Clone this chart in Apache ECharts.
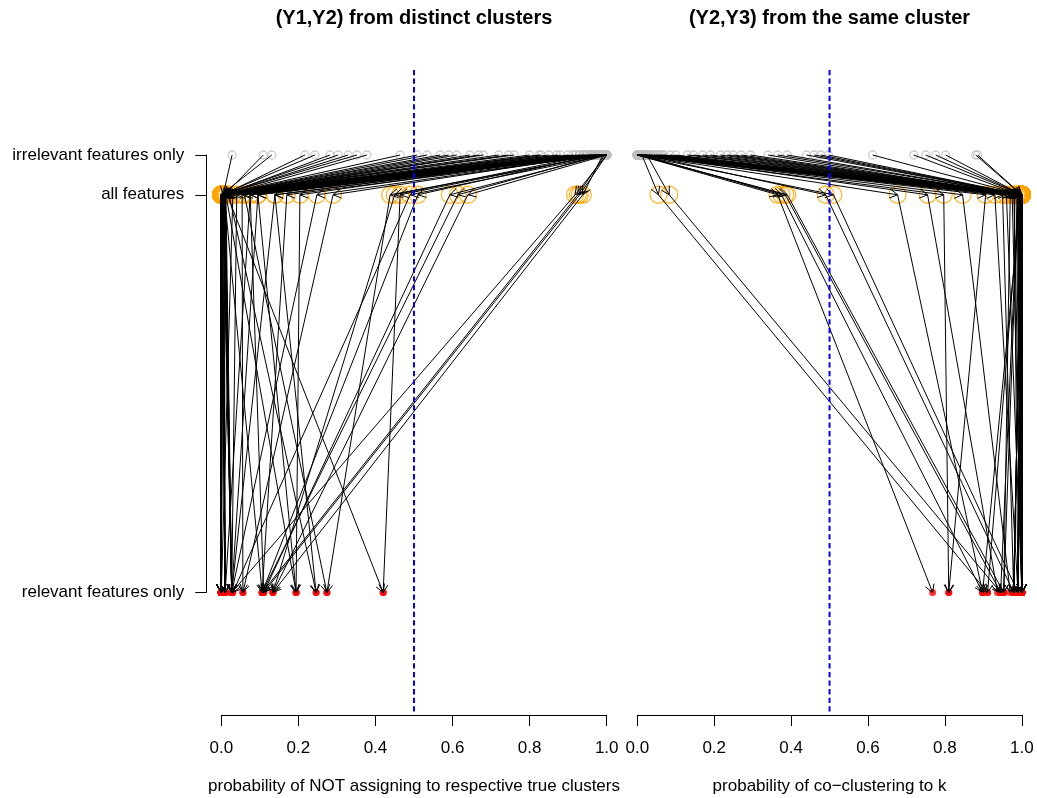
<!DOCTYPE html>
<html>
<head>
<meta charset="utf-8">
<title>feature sets</title>
<script src="https://cdn.jsdelivr.net/npm/echarts@6/dist/echarts.min.js"></script>
<style>
  html, body { margin: 0; padding: 0; background: #fff; }
  #chart { width: 1037px; height: 798px; }
</style>
</head>
<body>
<div id="chart"></div>
<script>
// rows of the plot, bottom to top
const LEVEL_NAMES = ['relevant features only', 'all features', 'irrelevant features only'];
const LEVEL_Y = [0, 1, 1.1];
const PLOT_YLIM = [-0.308, 1.314];   // full plotting region, used by the cutoff line
const X_TICKS = [0, 0.2, 0.4, 0.6, 0.8, 1.0];
const CUTOFF = 0.5;

const TITLES = ['(Y1,Y2) from distinct clusters', '(Y2,Y3) from the same cluster'];
const XLABELS = ['probability of NOT assigning to respective true clusters', 'probability of co\u2212clustering to k'];

// left panel: one value per run for each feature set
const leftIrr = [
  0.028, 0.109, 0.131, 0.217, 0.243, 0.282, 0.303, 0.329, 0.352, 0.378,
  0.464, 0.508, 0.534, 0.568, 0.59, 0.611, 0.645, 0.668, 0.68, 0.72,
  0.745, 0.76, 0.80, 0.825, 0.85, 0.88, 0.90, 0.912, 0.93, 0.94,
  0.955, 0.965, 0.975, 0.983, 0.99, 0.995, 0.998, 1.0, 1.0, 1.0,
  1.0, 1.0, 1.0, 1.0, 1.0, 1.0, 1.0, 1.0, 1.0, 1.0,
  0.997, 0.993, 0.987, 0.978, 0.97, 0.96, 0.945, 0.92, 0.87, 0.83,
  0.997, 0.985, 0.97, 0.96,
  0.95, 0.99, 0.98, 1.0, 0.975, 0.94, 0.985, 0.97, 0.96, 0.995, 0.93, 0.975, 0.965, 0.99,
  0.99, 0.96, 0.98, 1.0, 0.97, 0.995, 0.985, 1.0,
  1.0, 0.995, 1.0, 0.99
];
const leftAll = [
  0.005, 0.008, 0, 0.004, 0, 0.006, 0, 0.002, 0, 0.01,
  0, 0, 0.003, 0, 0, 0.012, 0, 0, 0.004, 0,
  0, 0, 0, 0.007, 0, 0, 0, 0.003, 0, 0,
  0, 0, 0, 0, 0, 0, 0, 0, 0.002, 0,
  0, 0.004, 0, 0, 0, 0.001, 0, 0, 0.006, 0,
  0, 0.003, 0, 0, 0.008, 0, 0, 0.002, 0, 0.01,
  0.015, 0.012, 0.02, 0.008,
  0.03, 0.04, 0.054, 0.075, 0.075, 0.095, 0.095, 0.139, 0.139, 0.17, 0.204, 0.248, 0.29, 0.06,
  0.438, 0.45, 0.464, 0.49, 0.51, 0.593, 0.614, 0.64,
  0.918, 0.925, 0.93, 0.938
];
const leftRel = [
  0, 0.01, 0, 0.027, 0, 0.01, 0, 0.01, 0, 0.027,
  0, 0, 0, 0, 0, 0.027, 0, 0, 0, 0,
  0.01, 0, 0, 0.027, 0, 0, 0, 0, 0, 0,
  0, 0.01, 0, 0, 0, 0, 0, 0, 0.01, 0,
  0, 0.027, 0, 0, 0, 0, 0, 0, 0.027, 0,
  0, 0.01, 0, 0, 0.027, 0, 0, 0.01, 0, 0.027,
  0.42, 0.194, 0.246, 0.106,
  0.0, 0.027, 0.056, 0.01, 0.11, 0.194, 0.027, 0.246, 0.027, 0.106, 0.194, 0.027, 0.056, 0.274,
  0.274, 0.134, 0.42, 0.03, 0.106, 0.11, 0.106, 0.134,
  0.027, 0.106, 0.11, 0.134
];

// right panel
const rightIrr = [
  0, 0, 0, 0, 0, 0, 0, 0, 0, 0,
  0, 0, 0.003, 0.006, 0.01, 0.013, 0.017, 0.02, 0.025, 0.03,
  0.035, 0.04, 0.045, 0.05, 0.055, 0.06, 0.065, 0.07, 0.086, 0.1,
  0.13, 0.146, 0.17, 0.19, 0.216, 0.234, 0.25, 0.27, 0.294, 0.34,
  0.365, 0.39, 0.44, 0.46, 0.477, 0.497, 0.612, 0.719, 0.75, 0.776,
  0.802, 0.88, 0.885, 0.002, 0.008, 0.015, 0, 0,
  0, 0.01, 0.02, 0.005,
  0, 0.02, 0, 0.015, 0, 0.005, 0, 0.01, 0.03, 0,
  0, 0.01, 0.005, 0, 0.02, 0,
  0.012, 0.025
];
const rightAll = [
  1, 1, 1, 1, 1, 0.998, 1, 1, 0.995, 1,
  1, 0.99, 1, 1, 1, 0.985, 1, 1, 1, 0.997,
  1, 1, 0.993, 1, 1, 1, 0.98, 1, 1, 1,
  0.996, 1, 1, 1, 0.99, 1, 1, 1, 1, 0.975,
  1, 1, 1, 0.998, 1, 1, 1, 0.994, 1, 1,
  1, 0.999, 1, 1, 0.988, 1, 1, 1,
  0.998, 0.995, 0.99, 0.99,
  0.677, 0.755, 0.797, 0.846, 0.906, 0.93, 0.95, 0.96, 0.97, 0.98,
  0.365, 0.375, 0.385, 0.39, 0.49, 0.51,
  0.055, 0.083
];
const rightRel = [
  1, 1, 0.99, 1, 1, 1, 0.979, 1, 1, 1,
  0.99, 1, 1, 1, 0.979, 1, 1, 0.99, 1, 1,
  1, 0.99, 1, 1, 1, 0.979, 1, 1, 1, 0.99,
  1, 1, 1, 0.99, 1, 1, 0.979, 1, 1, 1,
  1, 0.99, 1, 1, 1, 1, 0.99, 1, 1, 0.979,
  1, 1, 0.99, 1, 1, 1, 1, 0.99,
  0.898, 0.911, 0.945, 0.953,
  0.898, 0.937, 0.81, 0.97, 0.81, 0.99, 0.979, 1.0, 0.953, 0.99,
  0.768, 0.898, 0.945, 0.953, 0.979, 0.99,
  0.911, 0.945
];

const FONT = '"Liberation Sans", Arial, Helvetica, sans-serif';

function arrowsFor(irr, all, rel) {
  const out = [];
  for (let i = 0; i < irr.length; i++) {
    out.push([irr[i], LEVEL_Y[2], all[i], LEVEL_Y[1]]);
    out.push([all[i], LEVEL_Y[1], rel[i], LEVEL_Y[0]]);
  }
  return out;
}

// line with an open arrowhead, like R's arrows()
function renderArrow(params, api) {
  const p0 = api.coord([api.value(0), api.value(1)]);
  const p1 = api.coord([api.value(2), api.value(3)]);
  const ang = Math.atan2(p1[1] - p0[1], p1[0] - p0[0]);
  const L = 9, A = Math.PI / 6;
  const h1 = [p1[0] - L * Math.cos(ang - A), p1[1] - L * Math.sin(ang - A)];
  const h2 = [p1[0] - L * Math.cos(ang + A), p1[1] - L * Math.sin(ang + A)];
  const st = { stroke: '#000', lineWidth: 1, fill: null };
  return {
    type: 'group',
    children: [
      { type: 'line', shape: { x1: p0[0], y1: p0[1], x2: p1[0], y2: p1[1] }, style: st },
      { type: 'polyline', shape: { points: [h1, p1, h2] }, style: st }
    ]
  };
}

function renderCutoff(params, api) {
  const p0 = api.coord([api.value(0), api.value(1)]);
  const p1 = api.coord([api.value(2), api.value(3)]);
  return {
    type: 'line',
    shape: { x1: p0[0], y1: p0[1], x2: p1[0], y2: p1[1] },
    style: { stroke: '#0000ff', lineWidth: 2, lineDash: [5.3, 3.3] }
  };
}

function panelSeries(idx, irr, all, rel) {
  const ax = { xAxisIndex: idx, yAxisIndex: idx, silent: true, clip: false };
  return [
    Object.assign({
      type: 'scatter', symbol: 'circle', symbolSize: 8, z: 2,
      itemStyle: { color: 'rgba(0,0,0,0)', borderColor: '#bebebe', borderWidth: 1.3 },
      data: irr.map(v => [v, LEVEL_Y[2]])
    }, ax),
    Object.assign({
      type: 'scatter', symbol: 'circle', symbolSize: 17, z: 2,
      itemStyle: { color: 'rgba(0,0,0,0)', borderColor: '#ffa500', borderWidth: 1.3 },
      data: all.map(v => [v, LEVEL_Y[1]])
    }, ax),
    Object.assign({
      type: 'scatter', symbol: 'circle', symbolSize: 7, z: 2,
      itemStyle: { color: '#ff0000' },
      data: rel.map(v => [v, LEVEL_Y[0]])
    }, ax),
    Object.assign({
      type: 'custom', z: 3, renderItem: renderArrow,
      data: arrowsFor(irr, all, rel)
    }, ax),
    Object.assign({
      type: 'custom', z: 4, renderItem: renderCutoff,
      data: [[CUTOFF, PLOT_YLIM[1], CUTOFF, PLOT_YLIM[0]]]
    }, ax)
  ];
}

function xAxisFor(idx) {
  return {
    gridIndex: idx, type: 'value', min: 0, max: 1, interval: 0.2,
    offset: 122.5,
    splitLine: { show: false },
    axisLine: { show: true, onZero: false, lineStyle: { color: '#000', width: 1 } },
    axisTick: { show: true, length: 11, lineStyle: { color: '#000' } },
    axisLabel: { color: '#000', fontSize: 17, fontFamily: FONT, margin: 25,
      formatter: v => v.toFixed(1) },
    name: XLABELS[idx], nameLocation: 'middle', nameGap: 63,
    nameTextStyle: { color: '#000', fontSize: 17, fontFamily: FONT }
  };
}

const chart = echarts.init(document.getElementById('chart'), null, { renderer: 'canvas' });
chart.setOption({
  animation: false,
  backgroundColor: '#fff',
  title: TITLES.map((t, i) => ({
    text: t, left: i === 0 ? 414 : 829.5, top: 8, padding: 0, textAlign: 'center',
    textStyle: { color: '#000', fontSize: 20, fontWeight: 'bold', fontFamily: FONT }
  })),
  grid: [
    { left: 221.3, width: 385.4, top: 155, height: 437.5, outerBoundsMode: 'none' },
    { left: 637.3, width: 384.5, top: 155, height: 437.5, outerBoundsMode: 'none' }
  ],
  xAxis: [xAxisFor(0), xAxisFor(1)],
  yAxis: [
    {
      gridIndex: 0, type: 'value', min: 0, max: 1.1, offset: 15,
      splitLine: { show: false },
      axisLine: { show: true, onZero: false, lineStyle: { color: '#000', width: 1 } },
      axisTick: { show: true, length: 11, customValues: LEVEL_Y, lineStyle: { color: '#000' } },
      axisLabel: {
        color: '#000', fontSize: 17, fontFamily: FONT, margin: 22,
        padding: [3, 0, 0, 0],
        customValues: LEVEL_Y,
        formatter: v => LEVEL_NAMES[LEVEL_Y.findIndex(y => Math.abs(y - v) < 1e-6)] || ''
      }
    },
    { gridIndex: 1, type: 'value', min: 0, max: 1.1, show: false }
  ],
  series: panelSeries(0, leftIrr, leftAll, leftRel).concat(panelSeries(1, rightIrr, rightAll, rightRel))
});
</script>
</body>
</html>
